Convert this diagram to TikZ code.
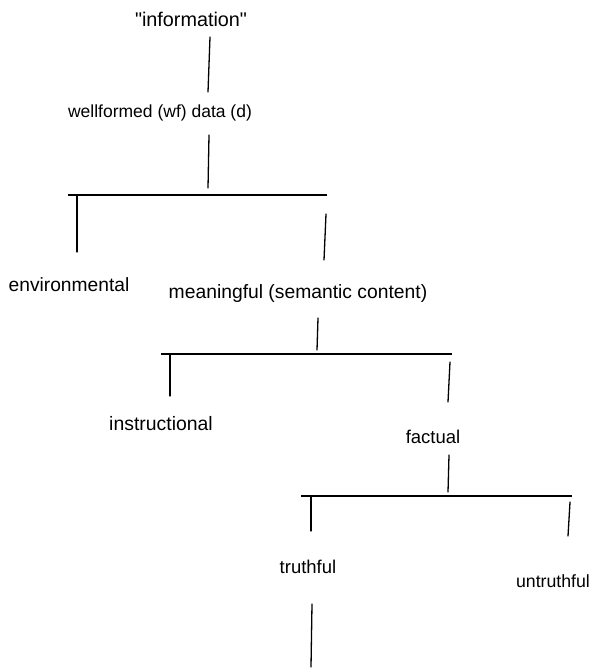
\documentclass[tikz,border=0pt]{standalone}
\usepackage{fontspec}
\newfontfamily\lbfont{Liberation Sans}
\begin{document}
\begin{tikzpicture}[x=1pt,y=-1pt,
  lbl/.style={inner sep=0pt, font=\lbfont\fontsize{#1}{20}\selectfont},
  lbl/.default=18,
  edge/.style={line width=1.3pt, line cap=round},
  bar/.style={line width=1.5pt}]
\useasboundingbox (0,0) rectangle (594,668);
% labels
\node[lbl=19.8] (info) at (191,19) {"information"};
\node[lbl=17.5] (wf) at (160,113) {wellformed (wf) data (d)};
\node[lbl=19.2] (env) at (69,285) {environmental};
\node[lbl=19.3] (mean) at (298,294) {meaningful (semantic content)};
\node[lbl=19.4] (instr) at (161,424) {instructional};
\node[lbl=18.5] (fact) at (433,437) {factual};
\node[lbl=18.5] (truth) at (308,567) {truthful};
\node[lbl=17.7] (untruth) at (553,581) {untruthful};
% junction coordinates
\coordinate (a1) at (210,37);  \coordinate (a2) at (208,92);
\coordinate (b1) at (209,135); \coordinate (b2) at (208,188);
\coordinate (h1l) at (68,195); \coordinate (h1r) at (327,195);
\coordinate (c1) at (77,196);  \coordinate (c2) at (77,252);
\coordinate (d1) at (326,214); \coordinate (d2) at (324,260);
\coordinate (e1) at (318,318); \coordinate (e2) at (317,350);
\coordinate (h2l) at (161,354); \coordinate (h2r) at (452,354);
\coordinate (f1) at (170,355); \coordinate (f2) at (170,396);
\coordinate (g1) at (450,362); \coordinate (g2) at (448,402);
\coordinate (i1) at (449,455); \coordinate (i2) at (448,492);
\coordinate (h3l) at (301,496); \coordinate (h3r) at (572,496);
\coordinate (j1) at (311,497); \coordinate (j2) at (311,531);
\coordinate (k1) at (570,502); \coordinate (k2) at (568,536);
\coordinate (m1) at (312,604); \coordinate (m2) at (311,667);
% connectors
\draw[edge] (a1) -- (a2);
\draw[edge] (b1) -- (b2);
\draw[bar] (h1l) -- (h1r);
\draw[edge] (c1) -- (c2);
\draw[edge] (d1) -- (d2);
\draw[edge] (e1) -- (e2);
\draw[bar] (h2l) -- (h2r);
\draw[edge] (f1) -- (f2);
\draw[edge] (g1) -- (g2);
\draw[edge] (i1) -- (i2);
\draw[bar] (h3l) -- (h3r);
\draw[edge] (j1) -- (j2);
\draw[edge] (k1) -- (k2);
\draw[edge] (m1) -- (m2);
\end{tikzpicture}
\end{document}
